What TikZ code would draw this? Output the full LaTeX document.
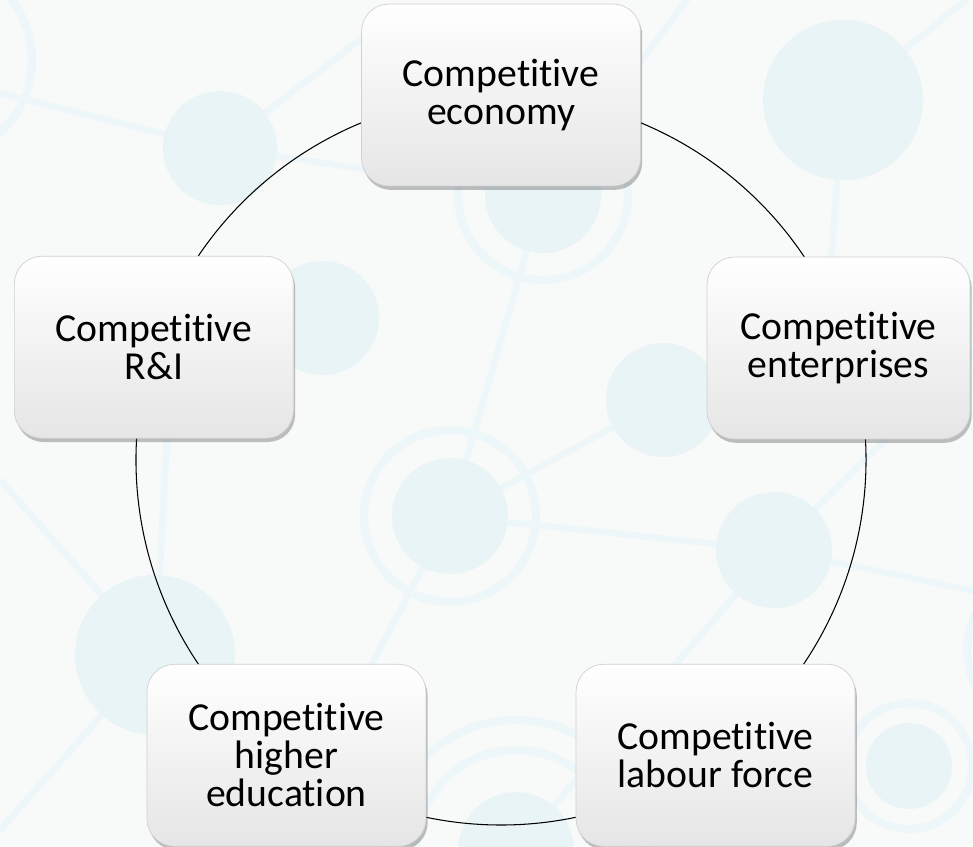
\documentclass[tikz,border=0pt]{standalone}
\usepackage{fontspec}
\setmainfont{Carlito}[Ligatures=NoCommon]
\usetikzlibrary{shadows}
\definecolor{paper}{HTML}{F8F9F9}
\definecolor{dot}{HTML}{E9F4F6}
\definecolor{wire}{HTML}{EDF6F8}
\pgfdeclarelayer{deco}
\pgfdeclarelayer{links}
\pgfsetlayers{deco,links,main}
\tikzset{
  stage/.style={draw=black!18, rounded corners=0.55cm, minimum width=5.58cm, minimum height=3.64cm,
    top color=white, middle color=white, bottom color=black!10, align=center,
    font=\fontsize{22.6}{21.6}\selectfont,
    drop shadow={shadow xshift=1pt, shadow yshift=-2.2pt, opacity=0.35, fill=black!70}},
  link/.style={draw=black, line width=0.6pt},
  strand/.style={draw=wire, line width=3.6pt},
  halo/.style={draw=wire, line width=4.5pt}
}

\begin{document}
\begin{tikzpicture}[x=0.02cm, y=-0.02cm]
\useasboundingbox (0,0) rectangle (973,846);
\coordinate (hub) at (501,460);

% faint network in the back
\begin{pgfonlayer}{deco}
\fill[paper] (0,0) rectangle (973,846);
\draw[strand] (0,93) -- (220,148) -- (405,5);
\draw[strand] (220,148) -- (543,195) -- (690,-5);
\draw[strand] (990,-20) -- (843,100) -- (826,330);
\draw[strand] (543,195) -- (450,516) -- (663,400);
\draw[strand] (300,800) -- (450,516) -- (774,550) -- (980,592);
\draw[strand] (980,345) -- (774,550) -- (516,850);
\draw[strand] (0,480) -- (155,655) -- (0,830);
\draw[strand] (155,655) -- (168,420);
\foreach \cx/\cy/\r in {543/195/85, 450/516/86, 516/850/100, 516/850/130, 909/766/63, -65/60/97, 1045/650/78}
  \draw[halo] (\cx,\cy) circle[radius=\r];
\foreach \cx/\cy/\r in {220/148/57, 322/318/57, 543/195/58, 843/100/80, 663/400/57,
    450/516/58, 774/550/58, 155/655/80, 516/850/58, 909/766/43}
  \fill[dot] (\cx,\cy) circle[radius=\r];
\end{pgfonlayer}

\node[stage] (eco) at ([shift={(270:365)}]hub) {Competitive\\economy};
\node[stage, minimum width=5.26cm] (ent) at (838.5,348) {Competitive\\enterprises};
\node[stage] (lab) at ([shift={(54:365)}]hub) {Competitive\\labour force};
\node[stage] (edu) at ([shift={(126:365)}]hub) {Competitive\\higher\\education};
\node[stage] (rni) at ([shift={(198:365)}]hub) {Competitive\\R\&I};

\begin{pgfonlayer}{links}
\foreach \n/\a/\d in {eco/270/72, lab/54/-72, lab/54/72, edu/126/72, rni/198/72}
  \draw[link] (\n.center) arc[start angle=\a, delta angle=\d, radius=365];
\end{pgfonlayer}
\end{tikzpicture}
\end{document}
